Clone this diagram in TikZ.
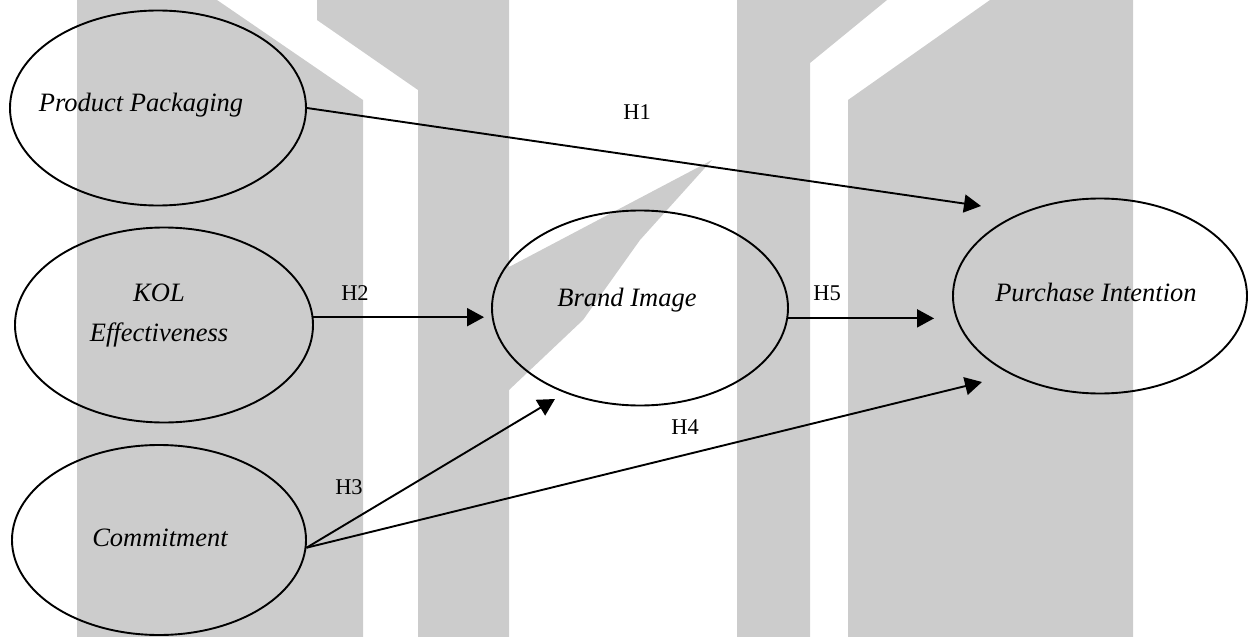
\documentclass[tikz,border=0pt]{standalone}
\usepackage{fontspec}
\setmainfont{Liberation Serif}
\usetikzlibrary{arrows.meta,shapes.geometric}
\definecolor{wm}{RGB}{204,204,204}
\begin{document}
\begin{tikzpicture}[x=1pt,y=-1pt,
  construct/.style={draw,line width=1.9pt,ellipse,inner sep=0pt,
    minimum width=296pt,minimum height=195pt},
  ctext/.style={font=\fontsize{26.5}{30}\selectfont\itshape,inner sep=0pt},
  hlabel/.style={font=\fontsize{22.5}{26}\selectfont,inner sep=0pt},
  link/.style={line width=1.9pt,-{Triangle[length=17pt,width=18pt]}},
  wmark/.style={fill=wm,draw=none}]
\useasboundingbox (0,0) rectangle (1254,637);

% watermark bars in the background
\fill[wmark] (77,637) -- (77,0) -- (217,0) -- (363,100) -- (363,637) -- cycle;
\fill[wmark] (418,637) -- (418,90) -- (317,20) -- (317,0) -- (509,0) -- (509,637) -- cycle;
\fill[wmark] (509,267) -- (712,160) -- (640,240) -- (583,320) -- (509,390) -- cycle;
\fill[wmark] (737,637) -- (737,0) -- (887,0) -- (810,63) -- (810,637) -- cycle;
\fill[wmark] (848,637) -- (848,100) -- (990,0) -- (1133,0) -- (1133,637) -- cycle;

% constructs
\node[construct] (pp) at (158,108) {};
\node[construct,minimum width=298pt] (kol) at (164,325) {};
\node[construct,minimum width=294pt,minimum height=190pt] (cm) at (159,540) {};
\node[construct] (bi) at (640,308) {};
\node[construct,minimum width=294pt] (pi) at (1100,296) {};

\node[ctext] (tpp) at (141,105) {Product Packaging};
\node[ctext] (tkol) at (159,293) {KOL};
\node[ctext] (teff) at (159,335) {Effectiveness};
\node[ctext] (tcm) at (160,538) {Commitment};
\node[ctext] (tbi) at (627,300) {Brand Image};
\node[ctext] (tpi) at (1096,292) {Purchase Intention};

% hypothesised paths
\coordinate (h1tip) at (981,206);
\coordinate (h3tip) at (555,399);
\coordinate (h4tip) at (982,382);
\draw[link] (pp.east) -- (h1tip);
\draw[link,shorten >=7pt] (kol.3) -- (kol.3 -| bi.west);
\draw[link,shorten >=18pt] (bi.-4) -- (bi.-4 -| pi.west);
\draw[link] (cm.-3) -- (h3tip);
\draw[link] (cm.-3) -- (h4tip);

\node[hlabel] (l1) at (637,112) {H1};
\node[hlabel] (l2) at (355,293) {H2};
\node[hlabel] (l3) at (349,487) {H3};
\node[hlabel] (l4) at (685,427) {H4};
\node[hlabel] (l5) at (827,293) {H5};
\end{tikzpicture}
\end{document}
